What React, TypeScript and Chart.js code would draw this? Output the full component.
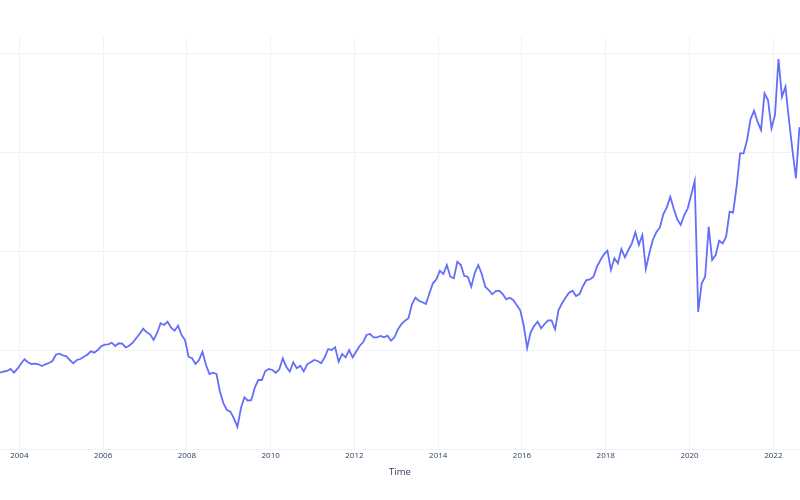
import React, { useEffect, useRef } from "react";
import { Chart, registerables } from "chart.js";

Chart.register(...registerables);

// Monthly observations starting mid-2003 (decimal years)
const startYear = 2003.54;
const monthStep = 1 / 12;

const seriesValues: number[] = [
  76.3, 77.3, 78, 80, 76.3, 80.3, 85.3, 89.7, 86.7, 85, 85.3, 84.7, 83, 84.7, 86, 88,
  94.3, 95.3, 93.7, 92.7, 89, 85.7, 89, 90, 92.3, 94.3, 97.7, 96.3, 99, 102.7, 104.3, 104.7,
  106.3, 103, 105.7, 105.3, 101.7, 103.3, 106.3, 110.7, 115.3, 120.3, 116.7, 114.7, 109, 116,
  125.7, 124, 127.3, 121.3, 118.3, 123.3, 114, 109, 92.3, 90.7, 85, 89, 97.3, 84, 75, 76.3,
  75, 57.3, 45.7, 39, 37.3, 30.7, 22, 40.7, 51.7, 48.3, 49, 61.7, 69, 69, 78, 80, 79, 76.3,
  79.7, 90.7, 82.3, 77.3, 86.7, 80.7, 83.3, 77.7, 84.7, 86.7, 89, 88, 85.7, 91.7, 100, 99,
  101.7, 87.3, 95, 91.7, 99, 91.7, 97.3, 103, 106.7, 114, 115, 111.7, 111.7, 113, 111.7, 113.3,
  108.3, 111.7, 119.7, 125, 128.3, 130.7, 144.7, 151.3, 148.3, 146.7, 145, 155.7, 165.7, 169.7,
  178.3, 175, 184, 172.3, 170.7, 187.3, 184, 173, 172.3, 162.3, 176.3, 184, 175, 162.3, 159,
  154.7, 158, 158.3, 155, 149.7, 151.3, 149, 144, 139, 124, 101, 116.7, 123, 127.3, 120.7, 125,
  128.7, 128.7, 119.7, 139, 145.7, 151.3, 156.3, 158.3, 153, 155, 163, 169, 169.7, 172.3, 182.3,
  189, 194.7, 198.3, 179, 190.7, 185.7, 200, 191.7, 199, 205.7, 216.7, 204, 214, 180, 195.7,
  209, 216.7, 221.3, 234.7, 241.7, 252.3, 240.3, 229.7, 224, 234, 240.7, 254, 268, 137, 165.7,
  172.3, 222.3, 189, 194, 208.3, 205.7, 212.3, 237.3, 236.3, 262.3, 295.7, 295.7, 309, 329.7,
  338.3, 327.3, 319, 355.7, 349, 320.7, 334, 390, 352.3, 362.3, 329, 299, 270.7, 321.7,
];

const xTickYears: number[] = [2004, 2006, 2008, 2010, 2012, 2014, 2016, 2018, 2020, 2022];
const yGridValues: number[] = [0, 98.75, 197.5, 296.25, 395];

const xMin = 2003.539;
const xMax = 2022.637;
const yMin = 0;
const yMax = 412;

export default function App() {
  const canvasRef = useRef<HTMLCanvasElement | null>(null);

  useEffect(() => {
    document.body.style.margin = "0";
    const canvas = canvasRef.current;
    if (!canvas) return;
    const points = seriesValues.map((v, i) => ({ x: startYear + i * monthStep, y: v }));
    const gridColor = "#EFF2F9";
    const chart = new Chart(canvas, {
      type: "line",
      data: {
        datasets: [
          {
            data: points,
            borderColor: "#636efa",
            backgroundColor: "#636efa",
            borderWidth: 1.8,
            pointRadius: 0,
            tension: 0,
            fill: false,
          },
        ],
      },
      options: {
        animation: false,
        responsive: false,
        layout: { padding: { top: 37, left: 0, right: 0, bottom: 0 } },
        plugins: {
          legend: { display: false },
          tooltip: { enabled: false },
        },
        scales: {
          x: {
            type: "linear",
            min: xMin,
            max: xMax,
            afterBuildTicks: (scale: any) => {
              scale.ticks = xTickYears.map((v) => ({ value: v }));
            },
            afterFit: (scale: any) => {
              scale.height = 51;
            },
            grid: { color: gridColor, drawTicks: false, lineWidth: 1 },
            border: { display: false },
            ticks: {
              color: "#2a3f5f",
              padding: 2,
              maxRotation: 0,
              autoSkip: false,
              font: { family: "'Open Sans', sans-serif", size: 8 },
              callback: (v: any) => String(v),
            },
            title: {
              display: true,
              text: "Time",
              color: "#2a3f5f",
              font: { family: "'Open Sans', sans-serif", size: 9.5 },
              padding: { top: 0, bottom: 22 },
            },
          },
          y: {
            type: "linear",
            min: yMin,
            max: yMax,
            afterBuildTicks: (scale: any) => {
              scale.ticks = yGridValues.map((v) => ({ value: v }));
            },
            afterFit: (scale: any) => {
              scale.width = 0;
            },
            grid: { color: gridColor, drawTicks: false, lineWidth: 1 },
            border: { display: false },
            ticks: { display: false },
          },
        },
      },
    });
    return () => chart.destroy();
  }, []);

  return (
    <div style={{ width: 800, height: 500, background: "#fff" }}>
      <canvas ref={canvasRef} width={800} height={500} style={{ display: "block" }} />
    </div>
  );
}
